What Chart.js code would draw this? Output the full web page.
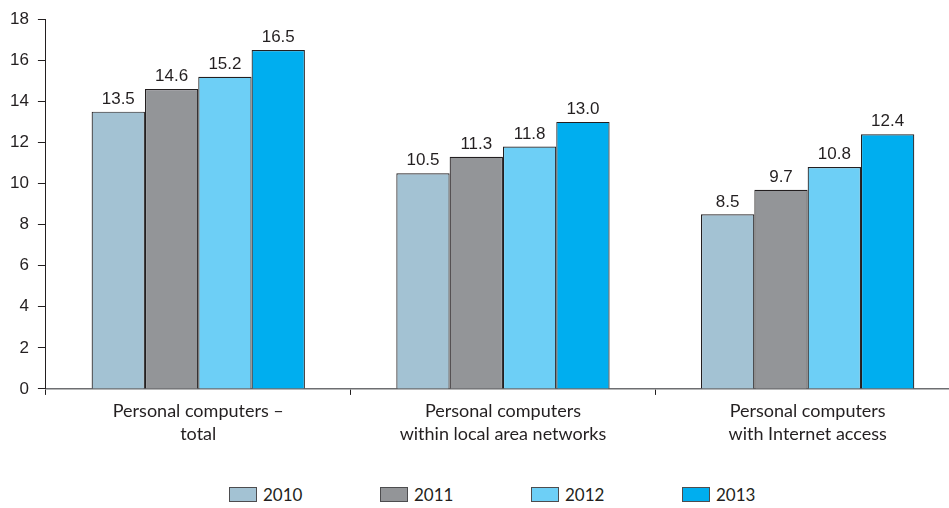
<!DOCTYPE html>
<html>
<head>
<meta charset="utf-8">
<script src="https://cdn.jsdelivr.net/npm/chart.js@4.4.1/dist/chart.umd.min.js"></script>
<style>
  html, body { margin: 0; padding: 0; background: #fff; overflow: hidden; }
  #wrap { width: 960px; height: 451px; }
  #legend { position: absolute; left: 229px; top: 482px; display: flex; font-family: Lato, sans-serif; font-size: 17px; color: #231f20; }
  .item { width: 151px; display: flex; align-items: center; height: 24px; }
  .box { width: 26px; height: 13px; border: 1px solid #4d4d4f; margin-right: 6px; }
</style>
</head>
<body>
<div id="wrap"><canvas id="chart"></canvas></div>
<div id="legend"></div>
<script>
// categories and series
const categories = [
    ["Personal computers \u2013", "total"],
    ["Personal computers", "within local area networks"],
    ["Personal computers", "with Internet access"]
];
const years = ["2010", "2011", "2012", "2013"];
const values2010 = [13.5, 10.5, 8.5];
const values2011 = [14.6, 11.3, 9.7];
const values2012 = [15.2, 11.8, 10.8];
const values2013 = [16.5, 13.0, 12.4];
const yTicks = [0, 2, 4, 6, 8, 10, 12, 14, 16, 18];

const colors = ["#a3c2d3", "#939598", "#6dcff6", "#00aeef"];
const seriesValues = [values2010, values2011, values2012, values2013];
const numFont = "'Liberation Sans', Arial, sans-serif";

// legend (html)
const legendEl = document.getElementById("legend");
years.forEach((y, i) => {
    const item = document.createElement("div");
    item.className = "item";
    item.innerHTML = `<span class="box" style="background:${colors[i]}"></span><span>${y}</span>`;
    legendEl.appendChild(item);
});

// value labels above bars
const valueLabels = {
    id: "valueLabels",
    afterDatasetsDraw(chart) {
        const ctx = chart.ctx;
        ctx.save();
        ctx.font = "17px " + numFont;
        ctx.fillStyle = "#231f20";
        ctx.textAlign = "center";
        ctx.textBaseline = "bottom";
        chart.data.datasets.forEach((ds, i) => {
            chart.getDatasetMeta(i).data.forEach((bar, j) => {
                ctx.fillText(ds.data[j].toFixed(1), bar.x, bar.y - 4);
            });
        });
        ctx.restore();
    }
};

new Chart(document.getElementById("chart"), {
    type: "bar",
    data: {
        labels: categories,
        datasets: years.map((y, i) => ({
            label: y,
            data: seriesValues[i],
            backgroundColor: colors[i],
            borderColor: "#231f20",
            borderWidth: 1.2,
            categoryPercentage: 0.7,
            barPercentage: 1.0
        }))
    },
    options: {
        responsive: true,
        maintainAspectRatio: false,
        animation: false,
        layout: { padding: { top: 4, right: 0, left: 1, bottom: 0 } },
        plugins: {
            legend: { display: false },
            tooltip: { enabled: false }
        },
        scales: {
            x: {
                grid: {
                    offset: true,
                    drawOnChartArea: false,
                    tickLength: 6,
                    color: "#231f20"
                },
                border: { color: "#6d6e71", width: 1.5 },
                ticks: {
                    color: "#231f20",
                    padding: 5,
                    font: { family: "Lato, sans-serif", size: 18, lineHeight: 1.28 }
                }
            },
            y: {
                min: 0,
                max: 18,
                afterBuildTicks: axis => { axis.ticks = yTicks.map(v => ({ value: v })); },
                grid: {
                    drawOnChartArea: false,
                    tickLength: 8,
                    color: "#231f20"
                },
                border: { color: "#231f20", width: 1 },
                ticks: {
                    color: "#231f20",
                    padding: 9,
                    font: { family: numFont, size: 17 }
                }
            }
        }
    },
    plugins: [valueLabels]
});
</script>
</body>
</html>
